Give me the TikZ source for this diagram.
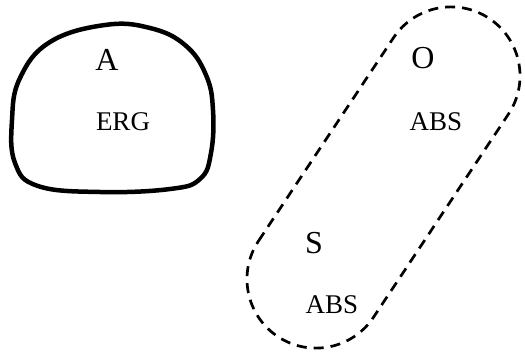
\documentclass[tikz,border=0pt]{standalone}
\usepackage{fontspec}
\setmainfont{Liberation Serif}
\begin{document}
\begin{tikzpicture}[x=1pt,y=-1pt,
  role/.style={inner sep=0pt,font=\fontsize{32}{36}\selectfont},
  casetag/.style={inner sep=0pt,font=\fontsize{27}{30}\selectfont},
  agentloop/.style={line width=4.5pt,line join=round},
  abspill/.style={line width=2.7pt,dash pattern=on 10pt off 7pt}]
\useasboundingbox (0,0) rectangle (525,353);
\fill[white] (0,0) rectangle (525,353);

% hand-drawn loop around the agent
\draw[agentloop] plot[smooth cycle,tension=0.7] coordinates {
  (105,25) (150,28) (185,45) (206,75) (213,110) (211,153) (200,179)
  (170,189) (100,192) (38,186) (15,163) (12,120) (20,78) (50,42)};

\node[role] (A) at (107,60) {A};
\node[casetag] (erg) at (123,122) {ERG};

% dashed capsule grouping O and S
\begin{scope}[shift={(383.5,177.5)},rotate=56.4]
  \draw[abspill] (-122,-69) -- (122,-69)
    arc[start angle=-90,end angle=90,radius=69] -- (-122,69)
    arc[start angle=90,end angle=270,radius=69] -- cycle;
\end{scope}

\node[role] (O) at (423,58) {O};
\node[casetag] (absO) at (436,122) {ABS};
\node[role] (S) at (314,243) {S};
\node[casetag] (absS) at (332,305) {ABS};
\end{tikzpicture}
\end{document}
